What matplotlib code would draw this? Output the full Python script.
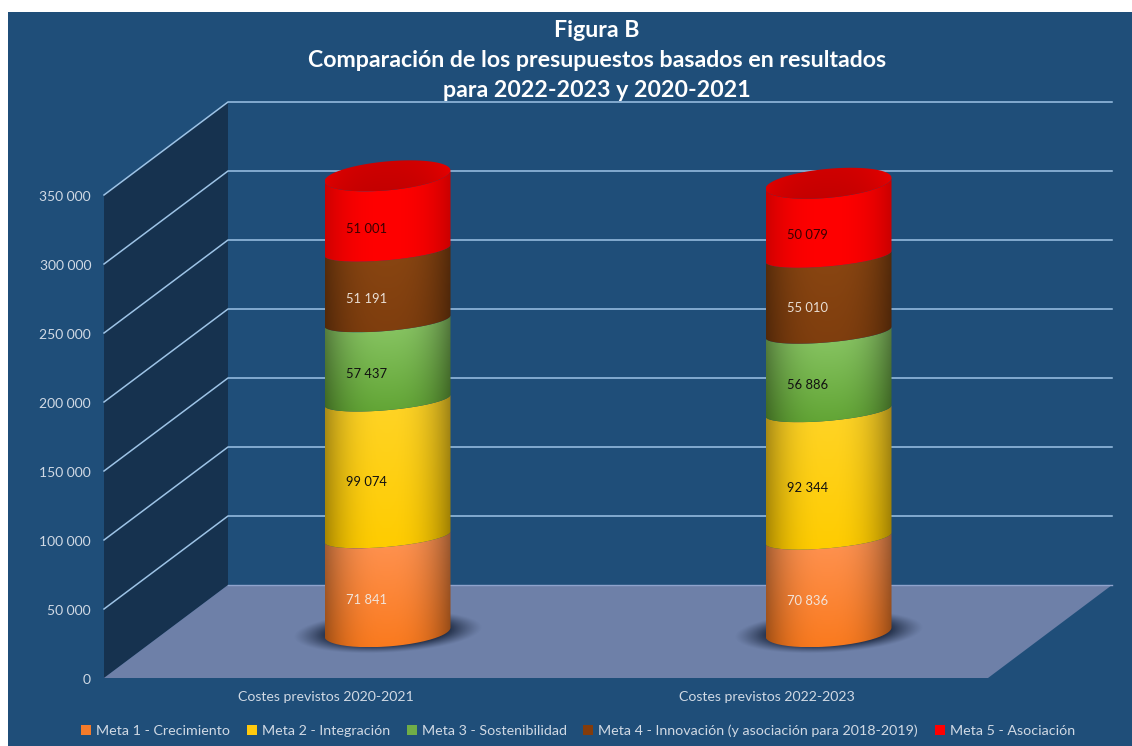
import numpy as np
import matplotlib
matplotlib.use("Agg")
import matplotlib.pyplot as plt
from matplotlib.patches import Polygon, PathPatch, Patch, Rectangle
from matplotlib.path import Path

plt.rcParams['font.family'] = ['Lato', 'DejaVu Sans']

# datos
categorias = ["Costes previstos 2020-2021", "Costes previstos 2022-2023"]
metas = ["Meta 1 - Crecimiento", "Meta 2 - Integración", "Meta 3 - Sostenibilidad",
         "Meta 4 - Innovación (y asociación para 2018-2019)", "Meta 5 - Asociación"]
costes_2020 = [71841, 99074, 57437, 51191, 51001]
costes_2022 = [70836, 92344, 56886, 55010, 50079]
ticks = [0, 50000, 100000, 150000, 200000, 250000, 300000, 350000]
titulo = ["Figura B", "Comparación de los presupuestos basados en resultados", "para 2022-2023 y 2020-2021"]

# colores
BG = "#1F4E79"
WALL = "#16324F"
FLOOR = "#6E80A8"
GRID = "#9DC3E6"
TXT = "#D0D9E4"
legend_cols = ["#F47B2A", "#FFC90E", "#70AD47", "#843C0C", "#FF0000"]
col_top = ["#FF9455", "#FFD428", "#8CC868", "#8A4612", "#FF0000"]
col_bot = ["#FA7A1E", "#FFCC00", "#62A535", "#7F3E0E", "#FF0000"]
edges = [0.38, 0.36, 0.38, 0.38, 0.2]
lab_cols = ["#F2E4DA", "#111111", "#111111", "#EADFD5", "#3A0000"]

# escala del grafico falso 3D (en pixeles de la imagen)
W, H = 1132, 746
PX = 69 / 50000
X_FRONT, Y_FRONT = 104, 678
X_BACK, Y_BACK = 228, 585
X_END = 1112
BASE_Y = 632
RX = 63
CX = [387.5, 828.5]


def wall_y(v):
    return Y_FRONT - v * PX


def back_y(v):
    return Y_BACK - v * PX


def miles(v):
    return f"{v:,}".replace(",", " ")


def arc(cx, cy, ry, k, a, b):
    t = np.linspace(a, b, 80)
    return np.column_stack([cx + RX * np.cos(t), cy - ry * np.sin(t) - k * np.cos(t)])


def shade(c_top, c_bot, edge=0.38):
    u = np.linspace(-1, 1, 130)
    v = np.linspace(0, 1, 140)[:, None, None]
    top = np.array(matplotlib.colors.to_rgb(c_top))
    bot = np.array(matplotlib.colors.to_rgb(c_bot))
    img = np.repeat((top * (1 - v) + bot * v), len(u), axis=1)
    f = 1 - edge * np.abs(u + 0.02) ** 2.6
    return np.clip(img * f[None, :, None], 0, 1)


fig = plt.figure(figsize=(W / 100, H / 100), dpi=100, facecolor="white")
ax = fig.add_axes([0, 0, 1, 1])
ax.set_xlim(0, W)
ax.set_ylim(H, 0)
ax.set_autoscale_on(False)
ax.axis("off")

ax.add_patch(Rectangle((8, 12), W - 8, H - 12, fc=BG, ec="none", zorder=0))

# paredes y suelo
ax.add_patch(Polygon([(X_FRONT, wall_y(0)), (X_FRONT, wall_y(350000)),
                      (X_BACK, back_y(350000)), (X_BACK, back_y(0))], fc=WALL, ec="none", zorder=1))
ax.add_patch(Polygon([(X_FRONT, Y_FRONT), (X_BACK, Y_BACK), (X_END, Y_BACK),
                      (X_END - (X_BACK - X_FRONT), Y_FRONT)], fc=FLOOR, ec="none", zorder=1))
for v in ticks:
    if v > 0:
        ax.plot([X_FRONT, X_BACK, X_END], [wall_y(v), back_y(v), back_y(v)], color=GRID, lw=1.1, zorder=2)
    ax.text(91, wall_y(v) + 2, miles(v), ha="right", va="center", color=TXT, fontsize=10, zorder=6)
ax.plot([X_BACK, X_END], [Y_BACK, Y_BACK], color="#8FA3CC", lw=1.0, zorder=2)

# sombras
for cx in CX:
    yy, xx = np.mgrid[595:670:150j, cx - 110:cx + 110:320j]
    d = np.sqrt(((xx - cx) / 90) ** 2 + ((yy - BASE_Y + (xx - cx) * 0.05) / 20) ** 2)
    a = np.clip((1.05 - d) / 0.4, 0, 1) ** 1.2 * 0.95
    rgba = np.zeros(d.shape + (4,))
    rgba[..., :3] = matplotlib.colors.to_rgb("#18243C")
    rgba[..., 3] = a
    ax.imshow(rgba, extent=[cx - 110, cx + 110, 670, 595], aspect="auto", zorder=3)

# cilindros apilados
RY_BAND, RY_CAP = 10, 14.5
K = 5.5
for cx, valores in zip(CX, [costes_2020, costes_2022]):
    acum = np.concatenate([[0], np.cumsum(valores)])
    for i, val in enumerate(valores):
        y0 = BASE_Y - acum[i] * PX
        y1 = BASE_Y - acum[i + 1] * PX
        if i == 0:
            low = arc(cx, y0, RY_CAP, K - 1, np.pi, 2 * np.pi)
        else:
            low = arc(cx, y0 + 4, RY_BAND, K, np.pi, 2 * np.pi)
        if i == len(valores) - 1:
            up = arc(cx, y1, RY_CAP, K, 2 * np.pi, np.pi)
        else:
            up = arc(cx, y1 + 4, RY_BAND, K, 2 * np.pi, np.pi)
        pts = np.vstack([low, up, low[:1]])
        clip = PathPatch(Path(pts), transform=ax.transData, fc="none", ec="none")
        ax.add_patch(clip)
        im = ax.imshow(shade(col_top[i], col_bot[i], edges[i]),
                       extent=[cx - RX, cx + RX, pts[:, 1].max(), pts[:, 1].min()],
                       aspect="auto", zorder=4 + i * 0.01, interpolation="bilinear")
        im.set_clip_path(clip)
        ax.text(cx - 21, (y0 + y1) / 2 + 17.5, miles(val), ha="center", va="center",
                color=lab_cols[i], fontsize=9.4, zorder=7)
    # tapa superior
    yt = BASE_Y - acum[-1] * PX
    tapa = arc(cx, yt, RY_CAP, K, 0, 2 * np.pi)
    clip = PathPatch(Path(tapa), transform=ax.transData, fc="none", ec="none")
    ax.add_patch(clip)
    im = ax.imshow(shade("#D00000", "#C40000", edge=-0.12),
                   extent=[cx - RX, cx + RX, tapa[:, 1].max(), tapa[:, 1].min()],
                   aspect="auto", zorder=5, interpolation="bilinear")
    im.set_clip_path(clip)

# etiquetas de categoria
for cx, cat in zip(CX, categorias):
    ax.text(cx - 62, 697, cat, ha="center", va="center", color=TXT, fontsize=10.2, zorder=6)

# titulo
for y, linea in zip([37, 67, 97], titulo):
    ax.text(597, y, linea, ha="center", va="baseline", color="white", fontsize=16.7,
            fontweight="bold", zorder=8)

# leyenda
handles = [Patch(fc=c, ec="none") for c in legend_cols]
ax.legend(handles, metas, loc="center", bbox_to_anchor=(578 / W, 1 - 731 / H), ncol=5, frameon=False,
          fontsize=10.3, labelcolor=TXT, handlelength=0.7, handleheight=0.7, handletextpad=0.35,
          columnspacing=1.16, borderpad=0)

fig.savefig("out.png", dpi=100, facecolor="white")
